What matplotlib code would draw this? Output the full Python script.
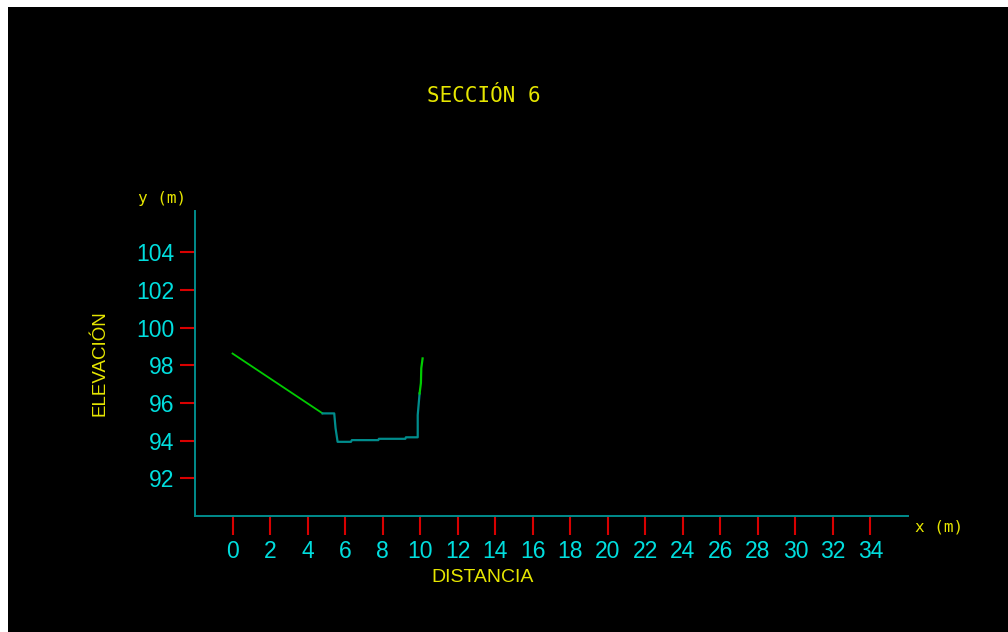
import matplotlib
matplotlib.use("Agg")
import matplotlib.pyplot as plt
from matplotlib.patches import Rectangle

# ---------- data ----------
left_bank_x = [0.0, 4.80]
left_bank_y = [98.63, 95.45]

channel_x = [4.80, 5.42, 5.49, 5.60, 6.31, 6.36, 7.77, 7.80, 9.21, 9.24, 9.87, 9.87, 9.97]
channel_y = [95.45, 95.45, 94.67, 93.94, 93.94, 94.03, 94.03, 94.10, 94.10, 94.18, 94.18, 95.36, 96.51]

right_bank_x = [9.97, 10.04, 10.06, 10.13]
right_bank_y = [96.51, 97.06, 97.85, 98.37]

x_ticks = list(range(0, 36, 2))
y_ticks = list(range(92, 106, 2))

# ---------- colours ----------
YELLOW = "#e6e600"
CYAN = "#00dede"
TEAL = "#008c8c"
GREEN = "#00cc00"
RED = "#d80000"

# ---------- figure ----------
W, H = 1008, 632
fig = plt.figure(figsize=(W / 100, H / 100), dpi=100, facecolor="white")
fig.patches.append(Rectangle((8 / W, 0), 1 - 8 / W, 1 - 7 / H,
                             transform=fig.transFigure, facecolor="black",
                             edgecolor="none", zorder=-10))

ax = fig.add_axes([195 / W, 1 - 516 / H, 713 / W, 305 / H])
ax.set_zorder(5)
ax.set_facecolor("none")

ax.plot(left_bank_x, left_bank_y, color=GREEN, linewidth=1.3)
ax.plot(channel_x, channel_y, color=TEAL, linewidth=1.6)
ax.plot(right_bank_x, right_bank_y, color=GREEN, linewidth=1.6)

ax.set_xlim(-2, 36)
ax.set_ylim(90, 106.2)

for s in ["top", "right"]:
    ax.spines[s].set_visible(False)
for s in ["left", "bottom"]:
    ax.spines[s].set_color(TEAL)
    ax.spines[s].set_linewidth(1.4)

ax.set_xticks(x_ticks)
ax.set_yticks(y_ticks)
ax.tick_params(axis="x", direction="out", length=13.7, width=1.5, color=RED,
               labelcolor=CYAN, labelsize=16.5, pad=3.5)
ax.tick_params(axis="y", direction="out", length=10.8, width=1.5, color=RED,
               labelcolor=CYAN, labelsize=16.5, pad=4)
for lab in ax.get_xticklabels() + ax.get_yticklabels():
    lab.set_family("Liberation Sans")

# ---------- texts ----------
mono = "DejaVu Sans Mono"
fig.text(484 / W, 1 - 96 / H, "SECCIÓN 6", color=YELLOW, fontsize=15,
         family=mono, ha="center", va="center")
fig.text(162 / W, 1 - 198 / H, "y (m)", color=YELLOW, fontsize=11.5,
         family=mono, ha="center", va="center")
fig.text(939 / W, 1 - 527 / H, "x (m)", color=YELLOW, fontsize=11.5,
         family=mono, ha="center", va="center")
fig.text(100 / W, 1 - 363 / H, "ELEVACIÓN", color=YELLOW, fontsize=13.5,
         family="Liberation Sans", ha="center", va="center", rotation=90)
fig.text(483 / W, 1 - 578 / H, "DISTANCIA", color=YELLOW, fontsize=14,
         family="Liberation Sans", ha="center", va="center")

fig.savefig("out.png", dpi=100, facecolor=fig.get_facecolor())
plt.close(fig)
